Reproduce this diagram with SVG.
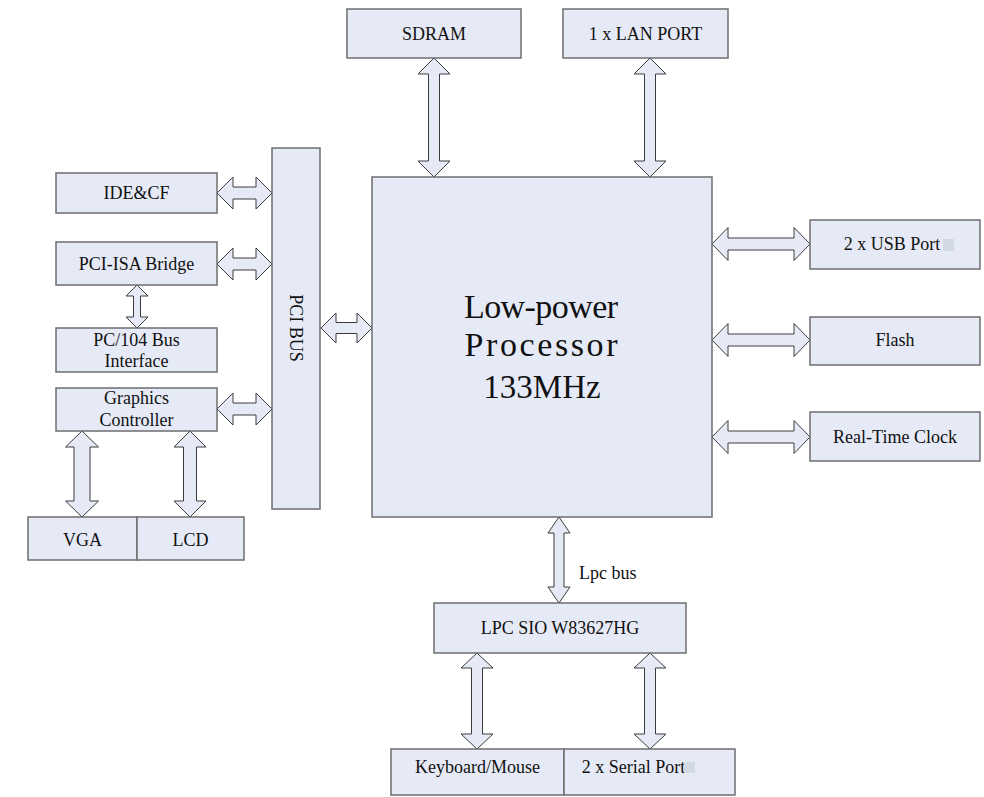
<svg xmlns="http://www.w3.org/2000/svg" width="984" height="797" viewBox="0 0 984 797">
<style>
.box{fill:#e6eaf6;stroke:#6e6e6e;stroke-width:1.5}
.arr{fill:#e6eaf6;stroke:#3c3c3c;stroke-width:1;stroke-linejoin:miter}
.t{font-family:"Liberation Serif","Times New Roman",serif;font-size:18px;fill:#111;text-anchor:middle}
.big{font-family:"Liberation Serif","Times New Roman",serif;font-size:34px;fill:#111;text-anchor:middle}
.mhz{font-family:"Liberation Serif","Times New Roman",serif;font-size:33px;fill:#111;text-anchor:middle}
.sq{fill:#d3d9e3}
</style>
<rect width="984" height="797" fill="#ffffff"/>
<g id="connectors">
<path class="arr" d="M434 58 L450 74 L439.5 74 L439.5 161 L450 161 L434 177 L418 161 L428.5 161 L428.5 74 L418 74 Z"/>
<path class="arr" d="M650 58 L666 74 L655.5 74 L655.5 161 L666 161 L650 177 L634 161 L644.5 161 L644.5 74 L634 74 Z"/>
<path class="arr" d="M217 193 L233 177 L233 187 L256 187 L256 177 L272 193 L256 209 L256 199 L233 199 L233 209 Z"/>
<path class="arr" d="M217 264 L233 248 L233 258 L256 258 L256 248 L272 264 L256 280 L256 270 L233 270 L233 280 Z"/>
<path class="arr" d="M217 409 L233 393 L233 403 L256 403 L256 393 L272 409 L256 425 L256 415 L233 415 L233 425 Z"/>
<path class="arr" d="M321 328 L336 313 L336 322.5 L357 322.5 L357 313 L372 328 L357 343 L357 333.5 L336 333.5 L336 343 Z"/>
<path class="arr" d="M137 285 L148 296 L140.5 296 L140.5 317 L148 317 L137 328 L126 317 L133.5 317 L133.5 296 L126 296 Z"/>
<path class="arr" d="M82 431 L98.5 447 L90 447 L90 501 L98.5 501 L82 517 L65.5 501 L74 501 L74 447 L65.5 447 Z"/>
<path class="arr" d="M190 431 L206 447 L196.5 447 L196.5 501 L206 501 L190 517 L174 501 L183.5 501 L183.5 447 L174 447 Z"/>
<path class="arr" d="M712 244 L728 227.5 L728 238 L794 238 L794 227.5 L810 244 L794 260.5 L794 250 L728 250 L728 260.5 Z"/>
<path class="arr" d="M712 340 L728 323.5 L728 334 L794 334 L794 323.5 L810 340 L794 356.5 L794 346 L728 346 L728 356.5 Z"/>
<path class="arr" d="M712 437 L728 420.5 L728 431 L794 431 L794 420.5 L810 437 L794 453.5 L794 443 L728 443 L728 453.5 Z"/>
<path class="arr" d="M559 517 L570 533 L564 533 L564 587 L570 587 L559 603 L548 587 L554 587 L554 533 L548 533 Z"/>
<path class="arr" d="M477 653 L493 668 L482.5 668 L482.5 734 L493 734 L477 749 L461 734 L471.5 734 L471.5 668 L461 668 Z"/>
<path class="arr" d="M650 653 L666 668 L655.5 668 L655.5 734 L666 734 L650 749 L634 734 L644.5 734 L644.5 668 L634 668 Z"/>
</g>
<g id="sdram"><rect class="box" x="347" y="9" width="174" height="49"/><text class="t" x="434" y="40">SDRAM</text></g>
<g id="lan"><rect class="box" x="563" y="9" width="165" height="49"/><text class="t" x="645.5" y="40">1 x LAN PORT</text></g>
<g id="processor"><rect class="box" x="372" y="177" width="340" height="340"/>
<text class="big" x="541" y="318" textLength="154" lengthAdjust="spacing">Low-power</text>
<text class="big" x="541" y="356" textLength="153" lengthAdjust="spacing">Processor</text>
<text class="mhz" x="542" y="398">133MHz</text></g>
<g id="pcibus"><rect class="box" x="272" y="148" width="48" height="361"/><text class="t" x="0" y="0" dominant-baseline="central" transform="translate(296,328) rotate(90)">PCI BUS</text></g>
<g id="idecf"><rect class="box" x="56" y="173" width="161" height="40"/><text class="t" x="136.5" y="199">IDE&amp;CF</text></g>
<g id="pciisa"><rect class="box" x="56" y="242" width="161" height="43"/><text class="t" x="136.5" y="270">PCI-ISA Bridge</text></g>
<g id="pc104"><rect class="box" x="56" y="328" width="161" height="44"/><text class="t" x="136.5" y="346">PC/104 Bus</text><text class="t" x="136.5" y="367">Interface</text></g>
<g id="graphics"><rect class="box" x="56" y="388" width="161" height="43"/><text class="t" x="136.5" y="404">Graphics</text><text class="t" x="136.5" y="426">Controller</text></g>
<g id="vga"><rect class="box" x="28" y="517" width="109" height="43"/><text class="t" x="82.5" y="546">VGA</text></g>
<g id="lcd"><rect class="box" x="137" y="517" width="107" height="43"/><text class="t" x="190.5" y="546">LCD</text></g>
<g id="usb"><rect class="box" x="810" y="220" width="170" height="49"/><text class="t" x="892" y="250">2 x USB Port</text><rect class="sq" x="943" y="239" width="11" height="12"/></g>
<g id="flash"><rect class="box" x="810" y="317" width="170" height="48"/><text class="t" x="895" y="346">Flash</text></g>
<g id="rtc"><rect class="box" x="810" y="412" width="170" height="49"/><text class="t" x="895" y="443">Real-Time Clock</text></g>
<text class="t" x="579" y="579" style="text-anchor:start">Lpc bus</text>
<g id="lpcsio"><rect class="box" x="434" y="603" width="252" height="50"/><text class="t" x="560" y="634">LPC SIO W83627HG</text></g>
<g id="keyboard"><rect class="box" x="391" y="749" width="173" height="46"/><text class="t" x="477.5" y="773">Keyboard/Mouse</text></g>
<g id="serial"><rect class="box" x="564" y="749" width="171" height="46"/><text class="t" x="633.5" y="773">2 x Serial Port</text><rect class="sq" x="684" y="762" width="11" height="11"/></g>
</svg>
